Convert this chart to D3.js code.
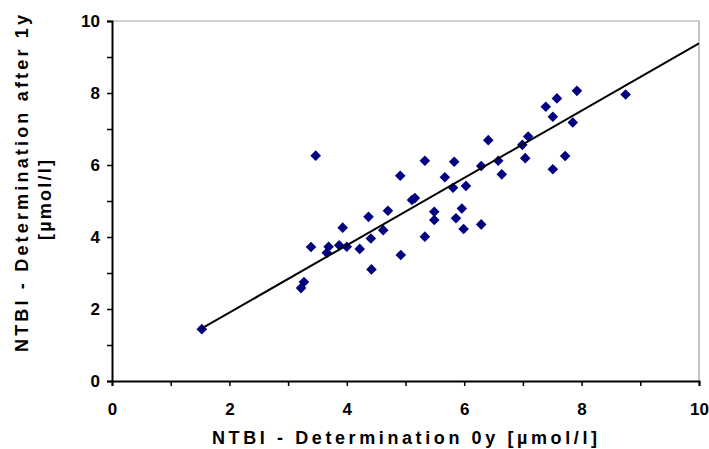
<!DOCTYPE html>
<html>
<head>
<meta charset="utf-8">
<script src="https://cdn.jsdelivr.net/npm/d3@7/dist/d3.min.js"></script>
<style>
  html, body { margin: 0; padding: 0; background: #fff; }
  svg { display: block; }
  text { font-family: "Liberation Sans", Arial, sans-serif; font-weight: bold; fill: #000; }
</style>
</head>
<body>
<svg id="chart" width="709" height="449"></svg>
<script>
// ---- data ----
const xValues = [1.53, 3.22, 3.27, 3.39, 3.47, 3.66, 3.69, 3.87, 3.93, 4.00,
                 4.22, 4.37, 4.41, 4.42, 4.62, 4.70, 4.92, 4.91, 5.11, 5.16,
                 5.33, 5.33, 5.49, 5.49, 5.67, 5.83, 5.81, 5.86, 5.96, 5.99,
                 6.03, 6.29, 6.29, 6.41, 6.58, 6.64, 6.99, 7.09, 7.04, 7.39,
                 7.58, 7.51, 7.92, 7.85, 7.72, 7.51, 8.75];
const yValues = [1.44, 2.58, 2.75, 3.72, 6.26, 3.56, 3.73, 3.77, 4.26, 3.73,
                 3.67, 4.56, 3.96, 3.10, 4.19, 4.73, 3.50, 5.70, 5.03, 5.08,
                 6.12, 4.01, 4.70, 4.47, 5.66, 6.09, 5.37, 4.52, 4.79, 4.22,
                 5.42, 5.97, 4.35, 6.69, 6.12, 5.74, 6.56, 6.79, 6.19, 7.62,
                 7.85, 7.34, 8.06, 7.18, 6.25, 5.88, 7.96];
// linear trend line: y = slope * x + intercept
const trendSlope = 0.935;
const trendIntercept = 0.03;
const trendRange = [1.53, 10];
const xTicks = [0, 2, 4, 6, 8, 10];
const yTicks = [0, 2, 4, 6, 8, 10];
const minorTicks = [0, 1, 2, 3, 4, 5, 6, 7, 8, 9, 10];
const xTitle = "NTBI - Determination 0y  [µmol/l]";
const yTitle1 = "NTBI - Determination after 1y";
const yTitle2 = "[µmol/l]";

// ---- layout ----
const svg = d3.select("#chart");
const pLeft = 112, pRight = 699, pTop = 21, pBottom = 381;
const x = d3.scaleLinear().domain([0, 10]).range([pLeft, pRight]);
const y = d3.scaleLinear().domain([0, 10]).range([pBottom, pTop]);
const FONT = "Liberation Sans, Arial, sans-serif";

// plot area border (top/right grey)
svg.append("path")
  .attr("d", `M${pLeft},${pTop}H${pRight}V${pBottom}`)
  .attr("fill", "none").attr("stroke", "#a0a0a0").attr("stroke-width", 1.2);

// x axis
const xAxisMinor = d3.axisBottom(x).tickValues(minorTicks).tickSize(5).tickFormat("");
svg.append("g").attr("transform", `translate(0,${pBottom})`).call(xAxisMinor)
  .call(g => g.select(".domain").attr("stroke", "#000").attr("stroke-width", 2))
  .call(g => g.selectAll(".tick line").attr("stroke", "#000").attr("stroke-width", 1.5));
const xAxis = d3.axisBottom(x).tickValues(xTicks).tickSize(0).tickPadding(22).tickFormat(d3.format("d"));
svg.append("g").attr("transform", `translate(0,${pBottom})`).call(xAxis)
  .call(g => g.select(".domain").remove())
  .call(g => g.selectAll("text").attr("font-size", 17).attr("font-family", FONT).attr("font-weight", "bold"));

// y axis
const yAxisMinor = d3.axisLeft(y).tickValues(minorTicks).tickSize(5).tickFormat("");
svg.append("g").attr("transform", `translate(${pLeft},0)`).call(yAxisMinor)
  .call(g => g.select(".domain").attr("stroke", "#000").attr("stroke-width", 2))
  .call(g => g.selectAll(".tick line").attr("stroke", "#000").attr("stroke-width", 1.5));
const yAxis = d3.axisLeft(y).tickValues(yTicks).tickSize(0).tickPadding(12).tickFormat(d3.format("d"));
svg.append("g").attr("transform", `translate(${pLeft},0)`).call(yAxis)
  .call(g => g.select(".domain").remove())
  .call(g => g.selectAll("text").attr("font-size", 17).attr("font-family", FONT).attr("font-weight", "bold"));

// points
const pts = xValues.map((v, i) => [v, yValues[i]]);
const diamond = d3.symbol().type(d3.symbolSquare).size(56);
svg.append("g").selectAll("path").data(pts).join("path")
  .attr("d", diamond)
  .attr("transform", d => `translate(${x(d[0])},${y(d[1])}) rotate(45)`)
  .attr("fill", "#000080");

// trend line
const line = d3.line().x(d => x(d)).y(d => y(trendSlope * d + trendIntercept));
svg.append("path").datum(trendRange).attr("d", line)
  .attr("fill", "none").attr("stroke", "#000").attr("stroke-width", 2);

// titles
svg.append("text").attr("x", 212).attr("y", 444)
  .attr("font-size", 18).attr("textLength", 385).attr("lengthAdjust", "spacing")
  .text(xTitle);
svg.append("text").attr("transform", `translate(28,352) rotate(-90)`)
  .attr("font-size", 18).attr("textLength", 337).attr("lengthAdjust", "spacing")
  .text(yTitle1);
svg.append("text").attr("transform", `translate(51,240) rotate(-90)`)
  .attr("font-size", 18).attr("textLength", 80).attr("lengthAdjust", "spacing")
  .text(yTitle2);
</script>
</body>
</html>
